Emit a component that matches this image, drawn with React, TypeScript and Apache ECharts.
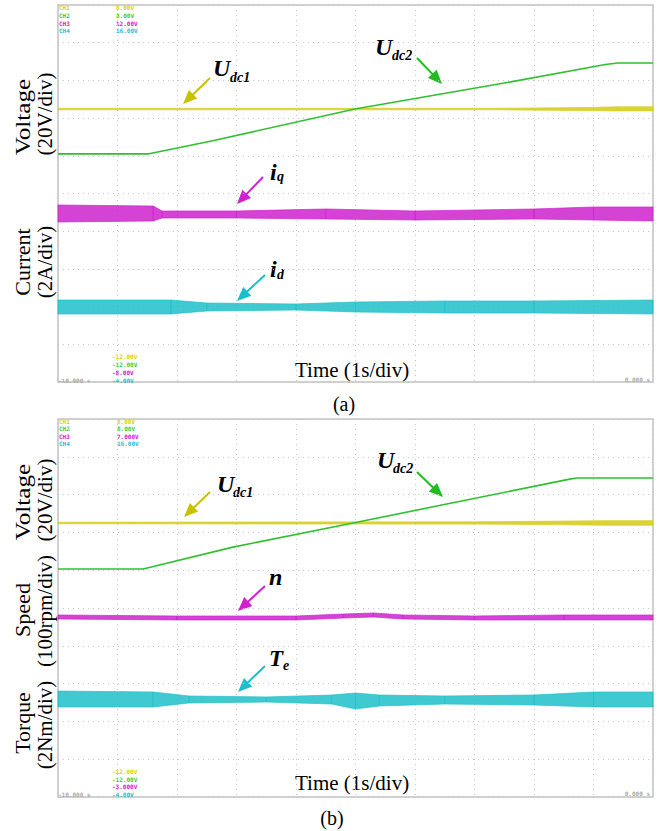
import React, { useEffect, useRef } from "react";
import * as echarts from "echarts";

// All trace values are in screen divisions (10 x 10 divisions; 1 s/div horizontally, 0 = bottom edge).
// ---------- Panel (a) ----------
const aUdc1T = [0, 7.4, 8.9, 9.4, 10];
const aUdc1Lo = [7.22, 7.22, 7.2, 7.19, 7.19];
const aUdc1Hi = [7.26, 7.26, 7.28, 7.3, 7.3];

const aUdc2T = [0, 1.51, 2.6, 4.99, 7.5, 9.2, 9.41, 10];
const aUdc2V = [6.05, 6.05, 6.4, 7.24, 7.93, 8.42, 8.46, 8.46];

const aIqT = [0, 1.6, 1.75, 3, 4.5, 6, 8, 9, 10];
const aIqHi = [4.695, 4.668, 4.536, 4.536, 4.589, 4.536, 4.589, 4.642, 4.642];
const aIqLo = [4.244, 4.271, 4.35, 4.35, 4.324, 4.297, 4.324, 4.297, 4.271];

const aIdT = [0, 1.9, 2.5, 4, 5, 6.5, 8, 10];
const aIdHi = [2.175, 2.175, 2.095, 2.069, 2.122, 2.149, 2.149, 2.175];
const aIdLo = [1.804, 1.804, 1.883, 1.91, 1.857, 1.83, 1.83, 1.804];

// ---------- Panel (b) ----------
const bUdc1T = [0, 7.1, 8.6, 9.2, 10];
const bUdc1Lo = [7.23, 7.22, 7.2, 7.19, 7.19];
const bUdc1Hi = [7.27, 7.28, 7.3, 7.31, 7.31];

const bUdc2T = [0, 1.43, 2.94, 4.96, 6.47, 8.6, 8.72, 10];
const bUdc2V = [6.03, 6.03, 6.61, 7.25, 7.73, 8.41, 8.44, 8.44];

const bNT = [0, 2, 4, 4.8, 5.3, 5.8, 7, 8.5, 10];
const bNHi = [4.815, 4.788, 4.788, 4.841, 4.868, 4.815, 4.788, 4.815, 4.815];
const bNLo = [4.709, 4.683, 4.683, 4.735, 4.762, 4.709, 4.683, 4.683, 4.683];

const bTeT = [0, 1.6, 2.2, 3.5, 4.6, 5.0, 5.4, 6.5, 8, 9, 10];
const bTeHi = [2.804, 2.778, 2.672, 2.646, 2.698, 2.751, 2.698, 2.672, 2.698, 2.778, 2.778];
const bTeLo = [2.381, 2.381, 2.487, 2.513, 2.46, 2.328, 2.407, 2.46, 2.434, 2.381, 2.381];

// Scope readouts
const chNames = ["CH1", "CH2", "CH3", "CH4"];
const aTopVals = ["8.00V", "8.00V", "12.00V", "16.00V"];
const aBotVals = ["-12.00V", "-12.00V", "-8.00V", "-4.00V"];
const bTopVals = ["8.00V", "8.00V", "7.000V", "16.00V"];
const bBotVals = ["-12.00V", "-12.00V", "-3.000V", "-4.00V"];
const timeStart = "-10.000 s";
const timeEnd = "0.000 s";

const YEL = "#d6ce22";
const GRN = "#2fc02f";
const MAG = "#cc22cc";
const CYA = "#1fc0c8";
const chColors = ["#d8d400", "#3ccc3c", "#d020d0", "#28bcd0"];

const SERIF = "Liberation Serif";

function lineSeries(name: string, g: number, xs: number[], ys: number[], color: string, w: number) {
  return {
    name,
    type: "line",
    xAxisIndex: g,
    yAxisIndex: g,
    data: xs.map((x, i) => [x, ys[i]]),
    showSymbol: false,
    symbol: "none",
    silent: true,
    lineStyle: { color, width: w },
    z: 3,
  };
}

// Noise envelope drawn as a filled band between lower and upper values
function bandSeries(name: string, g: number, xs: number[], lo: number[], hi: number[], color: string, op: number) {
  const n = xs.length;
  return {
    name,
    type: "custom",
    coordinateSystem: "cartesian2d",
    xAxisIndex: g,
    yAxisIndex: g,
    silent: true,
    z: 3,
    encode: { x: 0, y: [1, 2] },
    data: xs.map((x, i) => [x, lo[i], hi[i]]),
    renderItem: (params: any, api: any) => {
      const i = params.dataIndex;
      if (i >= n - 1) return null;
      const x0 = api.value(0), l0 = api.value(1), h0 = api.value(2);
      const x1 = xs[i + 1], l1 = lo[i + 1], h1 = hi[i + 1];
      const pts = [api.coord([x0, h0]), api.coord([x1, h1]), api.coord([x1, l1]), api.coord([x0, l0])];
      return {
        type: "polygon",
        shape: { points: pts },
        style: { fill: color, stroke: color, lineWidth: 0.8, opacity: op },
      };
    },
  };
}

function arrow(x1: number, y1: number, x2: number, y2: number, color: string) {
  const dx = x2 - x1, dy = y2 - y1;
  const L = Math.hypot(dx, dy);
  const ux = dx / L, uy = dy / L;
  const hl = 14, hw = 6;
  const bx = x2 - ux * hl, by = y2 - uy * hl;
  return [
    { type: "line", silent: true, shape: { x1, y1, x2: bx + ux * 2, y2: by + uy * 2 }, style: { stroke: color, lineWidth: 2 } },
    {
      type: "polygon",
      silent: true,
      shape: { points: [[x2, y2], [bx - uy * hw, by + ux * hw], [bx + uy * hw, by - ux * hw]] },
      style: { fill: color },
    },
  ];
}

function txt(text: string, x: number, baseline: number, fs: number, opts: any = {}) {
  return {
    type: "text",
    silent: true,
    x,
    y: baseline - 0.34 * fs,
    style: {
      text,
      fontSize: fs,
      fontFamily: opts.family || SERIF,
      fontWeight: opts.weight || "normal",
      fontStyle: opts.style || "normal",
      fill: opts.fill || "#000",
      align: opts.align || "left",
      verticalAlign: "middle",
    },
  };
}

function vtxt(text: string, cx: number, cy: number, fs: number, sx: number) {
  return {
    type: "text",
    silent: true,
    x: cx,
    y: cy,
    rotation: Math.PI / 2,
    scaleX: sx,
    style: { text, fontSize: fs, fontFamily: SERIF, fill: "#000", align: "center", verticalAlign: "middle" },
  };
}

function small(text: string, x: number, cy: number, color: string, align = "left") {
  return {
    type: "text",
    silent: true,
    x,
    y: cy,
    style: {
      text,
      fontSize: 6,
      fontFamily: "DejaVu Sans Mono",
      fontWeight: "bold",
      fill: color,
      align,
      verticalAlign: "middle",
    },
  };
}

function label(main: string, sub: string, x: number, bl: number, subX: number, subBl: number, fs = 24) {
  const out: any[] = [txt(main, x, bl, fs, { weight: "bold", style: "italic" })];
  if (sub) out.push(txt(sub, subX, subBl, 14, { weight: "bold", style: "italic" }));
  return out;
}

function axisCfg(g: number) {
  return {
    gridIndex: g,
    type: "value",
    min: 0,
    max: 10,
    interval: 1,
    axisLine: { show: false },
    axisTick: { show: false },
    axisLabel: { show: false },
    splitLine: { show: true, lineStyle: { color: "#c6c6c6", width: 1, type: [1, 4] } },
  };
}

export default function App() {
  const ref = useRef<HTMLDivElement>(null);
  useEffect(() => {
    if (!ref.current) return;
    const chart = echarts.init(ref.current, undefined, { renderer: "svg" });
    const graphic: any[] = [];

    // Axis titles (rotated)
    graphic.push(vtxt("Voltage", 23, 117, 21, 1.2));
    graphic.push(vtxt("(20V/div)", 45, 114, 21, 1.0));
    graphic.push(vtxt("Current", 23, 262, 21, 1.05));
    graphic.push(vtxt("(2A/div)", 45, 262, 21, 1.0));
    graphic.push(vtxt("Voltage", 23, 502, 21, 1.2));
    graphic.push(vtxt("(20V/div)", 45, 500, 21, 1.0));
    graphic.push(vtxt("Speed", 23, 610, 21, 1.05));
    graphic.push(vtxt("(100rpm/div)", 45, 611, 21, 1.0));
    graphic.push(vtxt("Torque", 23, 723, 21, 1.04));
    graphic.push(vtxt("(2Nm/div)", 45, 725, 21, 1.0));

    // Time labels and captions
    graphic.push(txt("Time (1s/div)", 295, 377, 21));
    graphic.push(txt("Time (1s/div)", 295, 790, 21));
    graphic.push(txt("(a)", 344, 411, 20, { align: "center" }));
    graphic.push(txt("(b)", 332, 825, 20, { align: "center" }));

    // Annotations panel (a)
    graphic.push(...label("U", "dc1", 213, 76, 230, 82));
    graphic.push(...arrow(210, 78, 183, 104, "#c8c000"));
    graphic.push(...label("U", "dc2", 375, 55, 392, 60));
    graphic.push(...arrow(417, 58, 442, 84, "#22bb22"));
    graphic.push(...label("i", "q", 270, 180, 277, 181));
    graphic.push(...arrow(263, 177, 237, 204, "#d020d0"));
    graphic.push(...label("i", "d", 270, 277, 277, 279));
    graphic.push(...arrow(265, 275, 237, 301, "#18c0cc"));

    // Annotations panel (b)
    graphic.push(...label("U", "dc1", 217, 492, 233, 497));
    graphic.push(...arrow(210, 492, 184, 517, "#c8c000"));
    graphic.push(...label("U", "dc2", 377, 468, 393, 473));
    graphic.push(...arrow(417, 472, 443, 497, "#22bb22"));
    graphic.push(...label("n", "", 269, 585, 0, 0));
    graphic.push(...arrow(265, 586, 238, 611, "#d020d0"));
    graphic.push(...label("T", "e", 269, 666, 283, 670, 23));
    graphic.push(...arrow(265, 666, 238, 692, "#18c0cc"));

    // Scope readouts
    const aRowsTop = [7.7, 15.3, 23, 30.7];
    const bRowsTop = [421, 428.5, 436, 443.5];
    const aRowsBot = [356, 364, 372, 380];
    const bRowsBot = [771, 779, 786.5, 794];
    chNames.forEach((n, i) => {
      graphic.push(small(n, 59, aRowsTop[i], chColors[i]));
      graphic.push(small(aTopVals[i], 116, aRowsTop[i], chColors[i]));
      graphic.push(small(n, 59, bRowsTop[i], chColors[i]));
      graphic.push(small(bTopVals[i], 117, bRowsTop[i], chColors[i]));
      graphic.push(small(aBotVals[i], 112, aRowsBot[i], chColors[i]));
      graphic.push(small(bBotVals[i], 112, bRowsBot[i], chColors[i]));
    });
    graphic.push(small(timeStart, 58, 380, "#aaaaaa"));
    graphic.push(small(timeStart, 58, 794, "#aaaaaa"));
    graphic.push(small(timeEnd, 650, 379, "#aaaaaa", "right"));
    graphic.push(small(timeEnd, 650, 793, "#aaaaaa", "right"));

    const series: any[] = [
      lineSeries("Udc2 (a)", 0, aUdc2T, aUdc2V, GRN, 1.6),
      bandSeries("Udc1 (a)", 0, aUdc1T, aUdc1Lo, aUdc1Hi, YEL, 0.9),
      bandSeries("iq", 0, aIqT, aIqLo, aIqHi, MAG, 0.85),
      bandSeries("id", 0, aIdT, aIdLo, aIdHi, CYA, 0.85),
      lineSeries("Udc2 (b)", 1, bUdc2T, bUdc2V, GRN, 1.6),
      bandSeries("Udc1 (b)", 1, bUdc1T, bUdc1Lo, bUdc1Hi, YEL, 0.9),
      bandSeries("n", 1, bNT, bNLo, bNHi, MAG, 0.85),
      bandSeries("Te", 1, bTeT, bTeLo, bTeHi, CYA, 0.85),
    ];

    chart.setOption({
      animation: false,
      backgroundColor: "#ffffff",
      grid: [
        { left: 58, top: 5, width: 595, height: 377, show: true, borderColor: "#c2c2c2", borderWidth: 1.5, backgroundColor: "#fff" },
        { left: 58, top: 419, width: 595, height: 378, show: true, borderColor: "#c2c2c2", borderWidth: 1.5, backgroundColor: "#fff" },
      ],
      xAxis: [axisCfg(0), axisCfg(1)],
      yAxis: [axisCfg(0), axisCfg(1)],
      series,
      graphic,
    });
    return () => chart.dispose();
  }, []);
  return <div ref={ref} style={{ position: "absolute", left: 0, top: 0, width: 663, height: 831, background: "#fff" }} />;
}
